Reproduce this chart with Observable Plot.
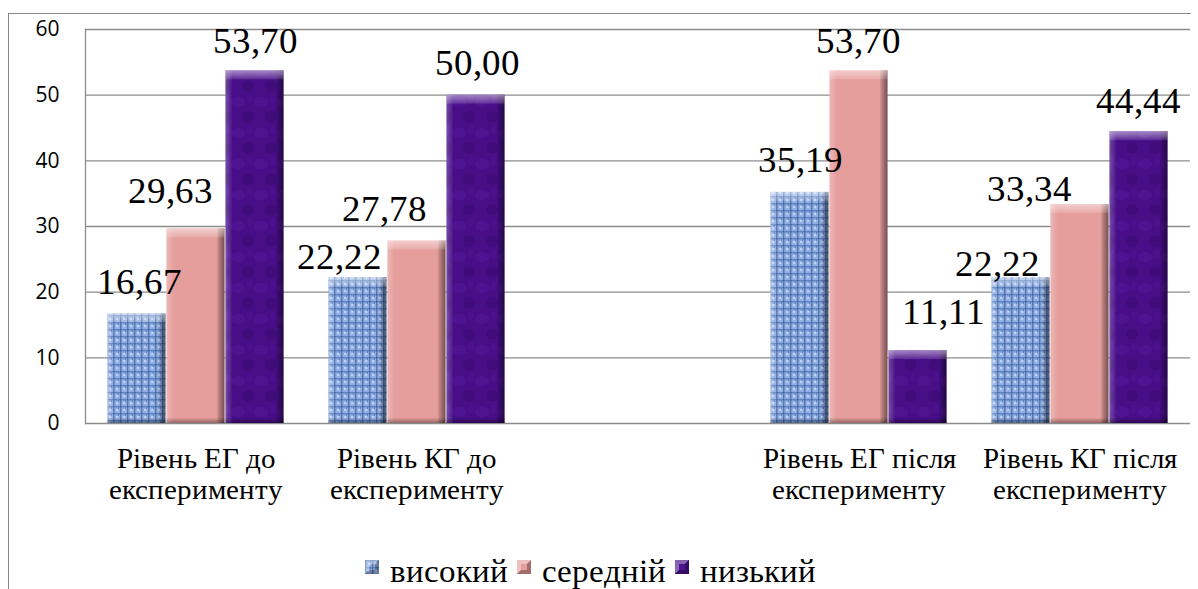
<!DOCTYPE html>
<html>
<head>
<meta charset="utf-8">
<script src="https://cdn.jsdelivr.net/npm/d3@7"></script>
<script src="https://cdn.jsdelivr.net/npm/@observablehq/plot@0.6"></script>
<style>
  @font-face { font-family: "ChartSerif"; src: local("Liberation Serif"), local("LiberationSerif"); font-display: swap; }
  body { margin: 0; background: #fff; }
  #wrap { position: relative; width: 1198px; height: 589px; overflow: hidden; background: #fff; }
  #frame { position: absolute; left: 8px; top: 13px; width: 1182px; height: 600px;
           border-top: 1px solid #8a8a8a; border-left: 1px solid #8a8a8a; pointer-events: none; }
  #chart { position: absolute; left: 0; top: 0; }
  #legend { position: absolute; left: 365px; top: 555px; white-space: nowrap;
            font-size: 33px; line-height: 33px; color: #000; }
  #legend svg { display: inline-block; vertical-align: 8px; }
  #legend span.lbl { margin-left: 11px; margin-right: 9px; }
</style>
</head>
<body>
<!-- shared paint servers for bars and legend swatches -->
<svg width="0" height="0" style="position:absolute">
  <defs>
    <pattern id="pBlue" patternUnits="userSpaceOnUse" width="7" height="7">
      <rect width="7" height="7" fill="#8eade2"/>
      <rect x="0" y="0" width="7" height="1.4" fill="#3a5d9e" fill-opacity="0.55"/>
      <rect x="0" y="0" width="1.4" height="7" fill="#2e4f8f" fill-opacity="0.6"/>
      <rect x="3" y="3" width="2.2" height="2.2" fill="#c9dbf8" fill-opacity="0.8"/>
      <rect x="5" y="1.5" width="1" height="1" fill="#24447f" fill-opacity="0.7"/>
    </pattern>
    <pattern id="pPurple" patternUnits="userSpaceOnUse" width="23" height="31">
      <rect width="23" height="31" fill="#470e88"/>
      <ellipse cx="7" cy="9" rx="7" ry="5" fill="#6424ab" fill-opacity="0.25"/>
      <ellipse cx="17" cy="24" rx="6" ry="6" fill="#2c0659" fill-opacity="0.25"/>
      <ellipse cx="19" cy="6" rx="3" ry="4" fill="#5a1c9e" fill-opacity="0.22"/>
    </pattern>
    <linearGradient id="gSide" x1="0" x2="1" y1="0" y2="0">
      <stop offset="0" stop-color="#fff" stop-opacity="0.25"/>
      <stop offset="0.09" stop-color="#fff" stop-opacity="0.08"/>
      <stop offset="0.12" stop-color="#fff" stop-opacity="0"/>
      <stop offset="0.86" stop-color="#000" stop-opacity="0"/>
      <stop offset="0.9" stop-color="#000" stop-opacity="0.18"/>
      <stop offset="1" stop-color="#000" stop-opacity="0.5"/>
    </linearGradient>
    <linearGradient id="gTop" x1="0" x2="0" y1="0" y2="1">
      <stop offset="0" stop-color="#fff" stop-opacity="0.5"/>
      <stop offset="1" stop-color="#fff" stop-opacity="0.12"/>
    </linearGradient>
    <linearGradient id="gBottom" x1="0" x2="0" y1="0" y2="1">
      <stop offset="0" stop-color="#000" stop-opacity="0.04"/>
      <stop offset="1" stop-color="#000" stop-opacity="0.35"/>
    </linearGradient>
  </defs>
</svg>

<div id="wrap">
  <div id="frame"></div>
  <div id="chart"></div>
  <div id="legend"></div>
</div>

<script>
// Groups along the axis; the blank entry keeps the gap between "до" and "після"
const categories = [
  "Рівень ЕГ до\nексперименту",
  "Рівень КГ до\nексперименту",
  " ",
  "Рівень ЕГ після\nексперименту",
  "Рівень КГ після\nексперименту"
];
const gapCategory = " ";
const series = ["високий", "середній", "низький"];

// Percentages per group (null for the blank gap)
const high = [16.67, 22.22, null, 35.19, 22.22];
const mid  = [29.63, 27.78, null, 53.70, 33.34];
const low  = [53.70, 50.00, null, 11.11, 44.44];

const yTicks = [0, 10, 20, 30, 40, 50, 60];

// Hand-placed value labels: [horizontal shift, lift above bar top] in px
const labelNudge = [
  [[2, 20], [-26, 26], [0, 18]],
  [[-19, 9], [-33, 20], [1, 20]],
  null,
  [[0, 20], [-1, 18], [25, 27]],
  [[-24, 2], [-51, 4], [-1, 19]]
];

const fills = {
  "високий": "url(#pBlue)",
  "середній": "#e59e9c",
  "низький": "url(#pPurple)"
};

const serif = "ChartSerif, 'Liberation Serif', serif";
const sans = "'Open Sans', sans-serif";

const valuesBySeries = [high, mid, low];
const rows = [];
categories.forEach((cat, i) => {
  series.forEach((s, j) => {
    const v = valuesBySeries[j][i];
    if (v != null) rows.push({cat, series: s, value: v, nudge: labelNudge[i][j]});
  });
});

const fmt = v => v.toFixed(2).replace(".", ",");
const gridColor = "#8c8c8c";

const plot = Plot.plot({
  width: 1198,
  height: 530,
  marginLeft: 84,
  marginRight: 8,
  marginTop: 29,
  marginBottom: 107,
  style: {background: "transparent", overflow: "visible"},
  fx: {domain: categories, padding: 0},
  x: {domain: series, paddingInner: 0, paddingOuter: 0.35, axis: null},
  y: {domain: [0, 60], axis: null},
  marks: [
    // keeps the gap cell populated so its gridlines are drawn
    Plot.text([{cat: gapCategory}], {fx: "cat", text: () => ""}),
    Plot.gridY(yTicks, {stroke: gridColor, strokeOpacity: 1, strokeWidth: 1.3}),
    Plot.frame({anchor: "left", facetAnchor: "left", stroke: gridColor, strokeWidth: 1.3}),
    ...series.map(s => Plot.barY(rows.filter(r => r.series === s), {
      fx: "cat", x: "series", y: "value", fill: fills[s], insetLeft: 0.5, insetRight: 0.5
    })),
    // bevel shading: side edges, top chamfer, bottom shadow
    Plot.barY(rows, {fx: "cat", x: "series", y: "value", fill: "url(#gSide)", insetLeft: 0.5, insetRight: 0.5}),
    Plot.barY(rows, {fx: "cat", x: "series", y1: "value", y2: "value", insetBottom: -9, fill: "url(#gTop)", insetLeft: 0.5, insetRight: 0.5}),
    Plot.barY(rows, {fx: "cat", x: "series", y1: () => 0, y2: () => 0, insetTop: -5, fill: "url(#gBottom)", insetLeft: 0.5, insetRight: 0.5}),
    ...rows.map(r => Plot.text([r], {
      fx: "cat", x: "series", y: "value", text: d => fmt(d.value),
      dx: r.nudge[0], dy: -r.nudge[1], lineAnchor: "bottom",
      fontFamily: serif, fontSize: 37, fill: "#000"
    })),
    Plot.axisY(yTicks, {tickSize: 0, tickPadding: 26, fontFamily: sans, fontSize: 21, fill: "#000", label: null}),
    Plot.axisFx({anchor: "bottom", tickSize: 0, tickPadding: 23, fontFamily: serif, fontSize: 29, lineHeight: 1.06, fill: "#000", label: null})
  ]
});
document.getElementById("chart").appendChild(plot);

// Legend: bevelled swatch + series name
const legend = d3.select("#legend");
series.forEach(s => {
  const sw = legend.append("svg").attr("width", 14).attr("height", 14);
  sw.append("rect").attr("width", 14).attr("height", 14).attr("fill", fills[s]);
  sw.append("path").attr("d", "M0,0L14,0L10,4L4,4L4,10L0,14Z").attr("fill", "#fff").attr("fill-opacity", 0.35);
  sw.append("path").attr("d", "M14,0L14,14L0,14L4,10L10,10L10,4Z").attr("fill", "#000").attr("fill-opacity", 0.3);
  legend.append("span").attr("class", "lbl").style("font-family", serif).text(s);
});
</script>
</body>
</html>
